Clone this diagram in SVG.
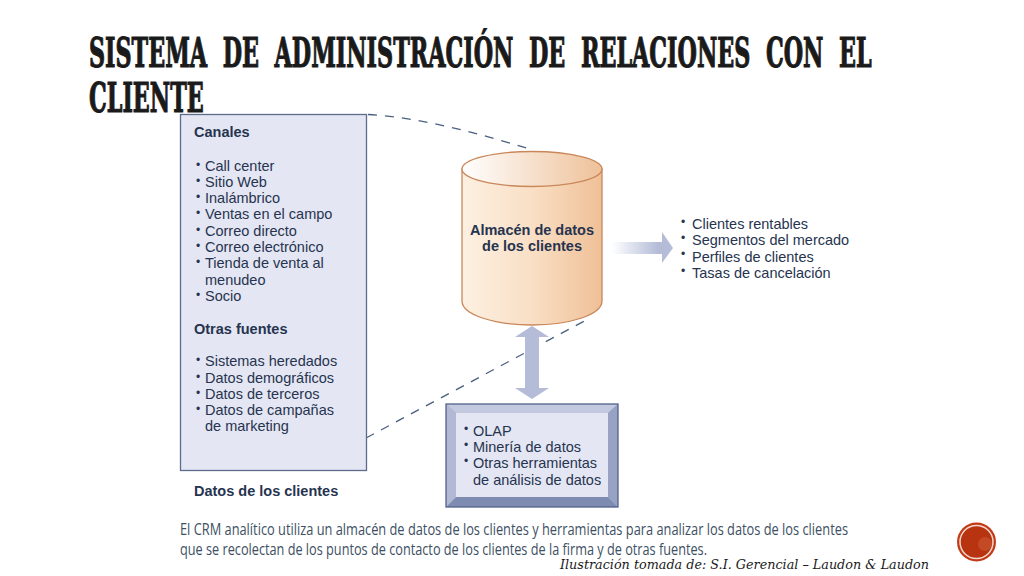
<svg xmlns="http://www.w3.org/2000/svg" width="1024" height="576" viewBox="0 0 1024 576">
<style>
.t{font-family:"DejaVu Serif Condensed","DejaVu Serif",serif;font-weight:700;font-size:41px;fill:#1a1a1a;stroke:#1a1a1a;stroke-width:1.100;word-spacing:13px}
.b{font-family:"Liberation Sans",Arial,sans-serif;font-size:14.5px;fill:#26344f}
.h{font-weight:700}
.u{font-size:12px}
.cap{font-family:"Open Sans","Noto Sans",sans-serif;font-size:15.5px;fill:#3d4f63}
.cr{font-family:"DejaVu Serif",serif;font-style:italic;font-size:13.5px;fill:#1a1a1a}
.dash{fill:none;stroke:#4a5f80;stroke-width:1.3;stroke-dasharray:9 8}
</style>
<defs>
<linearGradient id="cyl" x1="0" x2="1" y1="0" y2="0"><stop offset="0" stop-color="#fdf0e2"/><stop offset=".5" stop-color="#f9dfc5"/><stop offset="1" stop-color="#efc097"/></linearGradient>
<linearGradient id="top" x1="0" x2="1" y1="0" y2="0"><stop offset="0" stop-color="#ffffff"/><stop offset="1" stop-color="#eec199"/></linearGradient>
<linearGradient id="arr" x1="0" x2="1" y1="0" y2="0"><stop offset="0" stop-color="#b4bcd8" stop-opacity="0"/><stop offset=".75" stop-color="#b4bcd8"/></linearGradient>
</defs>
<rect width="1024" height="576" fill="#fff"/>
<g id="title">
<text class="t" transform="translate(89 67) scale(.604 1)">SISTEMA DE ADMINISTRACIÓN DE RELACIONES CON EL</text>
<text class="t" transform="translate(89 112) scale(.604 1)">CLIENTE</text>
</g>
<g id="connectors">
<path class="dash" d="M368 114.500C425 118 480 134 533 150"/>
<path class="dash" d="M366 438L590 318"/>
<path d="M612 242H662V232L673 248L662 263V254H612Z" fill="url(#arr)"/>
<path d="M532 326L549 337H539V388H549L532 399L515 388H525V337H515Z" fill="#b4bcd8"/>
</g>
<g id="canales">
<rect x="180.500" y="114.500" width="186" height="356" fill="#e4e6f3" stroke="#5d6c8c" stroke-width="1.300"/>
<text class="b h" x="194" y="137">Canales</text>
<g class="b">
<text class="u" x="196" y="169">•</text><text x="205" y="171">Call center</text>
<text class="u" x="196" y="185">•</text><text x="205" y="187">Sitio Web</text>
<text class="u" x="196" y="201">•</text><text x="205" y="203">Inalámbrico</text>
<text class="u" x="196" y="217">•</text><text x="205" y="219">Ventas en el campo</text>
<text class="u" x="196" y="234">•</text><text x="205" y="236">Correo directo</text>
<text class="u" x="196" y="250">•</text><text x="205" y="252">Correo electrónico</text>
<text class="u" x="196" y="266">•</text><text x="205" y="268">Tienda de venta al</text>
<text x="205" y="285">menudeo</text>
<text class="u" x="196" y="299">•</text><text x="205" y="301">Socio</text>
</g>
<text class="b h" x="194" y="334">Otras fuentes</text>
<g class="b">
<text class="u" x="196" y="364">•</text><text x="205" y="366">Sistemas heredados</text>
<text class="u" x="196" y="381">•</text><text x="205" y="383">Datos demográficos</text>
<text class="u" x="196" y="397">•</text><text x="205" y="399">Datos de terceros</text>
<text class="u" x="196" y="413">•</text><text x="205" y="415">Datos de campañas</text>
<text x="205" y="431">de marketing</text>
</g>
<text class="b h" x="194" y="496">Datos de los clientes</text>
</g>
<g id="almacen">
<path d="M462 169V301C462 315 495 325 532 325S602 315 602 301V169Z" fill="url(#cyl)" stroke="#c9875a" stroke-width="1.300"/>
<ellipse cx="532" cy="169" rx="70" ry="17.500" fill="url(#top)" stroke="#c9875a" stroke-width="1.300"/>
<text class="b h" x="532" y="235" text-anchor="middle">Almacén de datos</text>
<text class="b h" x="532" y="251" text-anchor="middle">de los clientes</text>
</g>
<g id="salidas" class="b">
<text class="u" x="681" y="226">•</text><text x="692" y="229">Clientes rentables</text>
<text class="u" x="681" y="242">•</text><text x="692" y="245">Segmentos del mercado</text>
<text class="u" x="681" y="258">•</text><text x="692" y="262">Perfiles de clientes</text>
<text class="u" x="681" y="275">•</text><text x="692" y="278">Tasas de cancelación</text>
</g>
<g id="herramientas">
<rect x="446" y="404" width="172" height="103" fill="#a9b2d0"/>
<path d="M446 404H618L608 413H456Z" fill="#c3c9df"/>
<path d="M446 507H618L608 497H456Z" fill="#7f8cb2"/>
<path d="M446 404L456 413V497L446 507Z" fill="#b1b9d4"/>
<path d="M618 404L608 413V497L618 507Z" fill="#98a3c4"/>
<rect x="446" y="404" width="172" height="103" fill="none" stroke="#52618a" stroke-width="1.300"/>
<rect x="456" y="413" width="152" height="84" fill="#e4e6f3"/>
<g class="b">
<text class="u" x="464" y="433">•</text><text x="473" y="436">OLAP</text>
<text class="u" x="464" y="449">•</text><text x="473" y="452">Minería de datos</text>
<text class="u" x="464" y="465">•</text><text x="473" y="468">Otras herramientas</text>
<text x="473" y="485">de análisis de datos</text>
</g>
</g>
<g id="nota">
<text class="cap" x="180" y="535" textLength="668" lengthAdjust="spacingAndGlyphs">El CRM analítico utiliza un almacén de datos de los clientes y herramientas para analizar los datos de los clientes</text>
<text class="cap" x="180" y="555" textLength="527" lengthAdjust="spacingAndGlyphs">que se recolectan de los puntos de contacto de los clientes de la firma y de otras fuentes.</text>
<text class="cr" x="560" y="569" textLength="369" lengthAdjust="spacingAndGlyphs">Ilustración tomada de: S.I. Gerencial – Laudon &amp; Laudon</text>
</g>
<g id="boton">
<circle cx="976.500" cy="542" r="19.500" fill="#c23a17"/>
<circle cx="976.500" cy="542" r="16.500" fill="#b8330f" stroke="#f3d9cc" stroke-width="1.500"/>
<circle cx="985" cy="544" r="7" fill="#cc5a33" opacity=".6"/>
</g>
</svg>
